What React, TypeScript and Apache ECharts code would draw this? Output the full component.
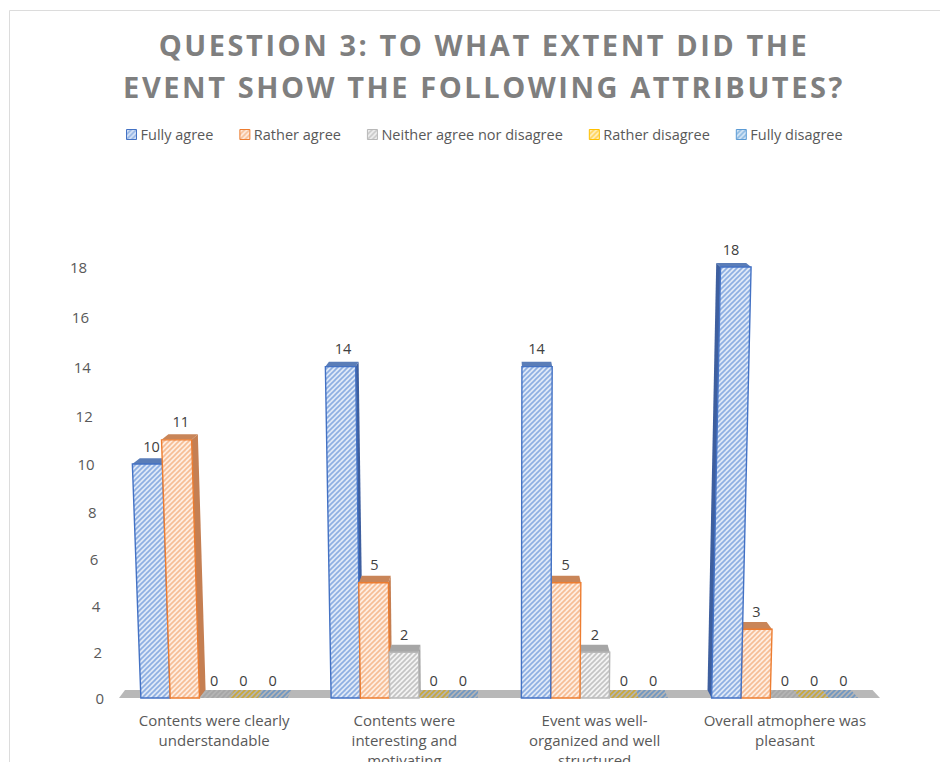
import React, { useEffect, useRef } from "react";
import * as echarts from "echarts";

const titleText = "QUESTION 3: TO WHAT EXTENT DID THE\nEVENT SHOW THE FOLLOWING ATTRIBUTES?";
const categories = [
  "Contents were clearly\nunderstandable",
  "Contents were\ninteresting and\nmotivating",
  "Event was well-\norganized and well\nstructured",
  "Overall atmophere was\npleasant",
];
const seriesNames = ["Fully agree", "Rather agree", "Neither agree nor disagree", "Rather disagree", "Fully disagree"];
const fullyAgree = [10, 14, 14, 18];
const ratherAgree = [11, 5, 5, 3];
const neither = [0, 2, 2, 0];
const ratherDisagree = [0, 0, 0, 0];
const fullyDisagree = [0, 0, 0, 0];
const seriesValues = [fullyAgree, ratherAgree, neither, ratherDisagree, fullyDisagree];
const tickLabels = [0, 2, 4, 6, 8, 10, 12, 14, 16, 18];

const borders = ["#4472c4", "#ed7d31", "#b8b8b8", "#ffc000", "#5b9bd5"];
const stripes = ["#8dafe2", "#f6bd95", "#c4c4c4", "#ffd050", "#86b6e0"];
const grounds = ["#e0e9f7", "#feeee3", "#f4f4f4", "#fff3cc", "#deebf7"];
const caps = ["#5a7db8", "#c98558", "#a6a6a6", "#c9a83a", "#6f97c2"];
const sides = ["#3e5f9f", "#c57f52", "#a0a0a0", "#c9a83a", "#6f97c2"];

function hatch(fg: string, bg: string) {
  const c = document.createElement("canvas");
  c.width = 5;
  c.height = 5;
  const g = c.getContext("2d")!;
  g.fillStyle = bg;
  g.fillRect(0, 0, 5, 5);
  g.strokeStyle = fg;
  g.lineWidth = 1.7;
  for (const o of [-5, 0, 5]) {
    g.beginPath();
    g.moveTo(o - 1, 6);
    g.lineTo(o + 6, -1);
    g.stroke();
  }
  return { image: c, repeat: "repeat" as const };
}

// The reference's 3D view makes the scale slightly denser near the floor.
const warp = (v: number) => (v * (22.72 + 0.068 * v)) / (431 / 18);
const VANISH_X = 505;
const LEAN = 0.0001;
const INSET = 0.02;

function skew(x: number, rise: number) {
  return VANISH_X + (x - VANISH_X) * (1 + LEAN * rise);
}
function back(x: number) {
  return VANISH_X + (x - VANISH_X) * (1 - INSET);
}

export default function App() {
  const ref = useRef<HTMLDivElement>(null);
  useEffect(() => {
    const chart = echarts.init(ref.current!, undefined, { renderer: "svg" });
    const fills = borders.map((_, i) => hatch(stripes[i], grounds[i]));
    const zeroCaps = borders.map((_, i) => hatch(caps[i], "#b4b4b4"));

    const barRender = (si: number) => (params: any, api: any) => {
      const cat = api.value(0);
      const val = api.value(1);
      const [cx, y0] = api.coord([cat, 0]);
      const [, yT] = api.coord([cat, warp(val)]);
      const band = api.size([1, 0])[0];
      const bw = band * 0.154;
      const xl = cx + (si - 2.5) * bw;
      const xr = xl + bw;
      const rise = y0 - yT;
      const tl = skew(xl, rise);
      const tr = skew(xr, rise);
      const depth = 8 - rise * 0.0095;
      const order = cat >= 2 ? 10 - si : si;
      const children: any[] = [];
      const mid = (xl + xr) / 2;
      if (val > 0 && mid < VANISH_X - 15) {
        children.push({
          type: "polygon",
          z2: order,
          shape: { points: [[xr, y0], [tr, yT], [back(tr), yT - depth], [back(xr), y0 - 8]] },
          style: { fill: sides[si] },
        });
      }
      if (val > 0 && mid > VANISH_X + 60) {
        children.push({
          type: "polygon",
          z2: order,
          shape: { points: [[xl, y0], [tl, yT], [back(tl), yT - depth], [back(xl), y0 - 8]] },
          style: { fill: sides[si] },
        });
      }
      children.push({
        type: "polygon",
        z2: order,
        shape: { points: [[tl, yT], [tr, yT], [back(tr), yT - depth], [back(tl), yT - depth]] },
        style: { fill: val > 0 ? caps[si] : zeroCaps[si] },
      });
      if (val > 0) {
        children.push({
          type: "polygon",
          z2: order,
          shape: { points: [[xl, y0], [xr, y0], [tr, yT], [tl, yT]] },
          style: { fill: fills[si], stroke: borders[si], lineWidth: 1.4 },
        });
      }
      children.push({
        type: "text",
        z2: 100,
        style: {
          x: (mid + (tl + tr) / 2) / 2,
          y: yT - 18,
          text: String(val),
          fill: "#404040",
          font: "14.5px 'Open Sans'",
          align: "center",
          verticalAlign: "middle",
        },
      });
      return { type: "group", children };
    };

    const floorRender = (params: any, api: any) => {
      const band = api.size([1, 0])[0];
      const [c0, y0] = api.coord([0, 0]);
      const [c3] = api.coord([categories.length - 1, 0]);
      const xa = c0 - band / 2;
      const xb = c3 + band / 2;
      return {
        type: "polygon",
        shape: { points: [[xa, y0], [xb, y0], [back(xb), y0 - 8], [xa + 6, y0 - 8]] },
        style: { fill: "#b8b8b8" },
      };
    };

    chart.setOption({
      animation: false,
      backgroundColor: "#ffffff",
      title: {
        text: titleText,
        left: 479,
        top: 18,
        textAlign: "center",
        textStyle: {
          fontFamily: "Open Sans",
          fontWeight: "bold",
          fontSize: 29,
          lineHeight: 42,
          color: "#7f7f7f",
        },
      },
      legend: {
        left: 121,
        top: 122,
        itemWidth: 10,
        itemHeight: 10,
        itemGap: 26,
        icon: "rect",
        selectedMode: false,
        textStyle: { fontFamily: "Open Sans", fontSize: 14.5, color: "#595959", padding: [0, 0, 0, -1] },
        data: seriesNames.map((name, i) => ({
          name,
          icon: "rect",
          itemStyle: { color: fills[i], borderColor: borders[i], borderWidth: 1 },
        })),
      },
      grid: { left: 119, top: 267, width: 761, height: 431, outerBoundsMode: "none" },
      xAxis: {
        type: "category",
        data: categories,
        axisLine: { show: false },
        axisTick: { show: false },
        axisLabel: {
          interval: 0,
          margin: 12,
          fontFamily: "Open Sans",
          fontSize: 15,
          lineHeight: 20,
          color: "#595959",
        },
      },
      yAxis: {
        type: "value",
        min: 0,
        max: 18,
        splitLine: { show: false },
        axisLine: { show: false },
        axisTick: { show: false },
        axisLabel: {
          customValues: tickLabels.map(warp),
          margin: 15,
          formatter: (v: number) => {
            const t = tickLabels.reduce((a, b) => (Math.abs(warp(b) - v) < Math.abs(warp(a) - v) ? b : a));
            return `{t${t}|${t}}`;
          },
          rich: Object.fromEntries(
            tickLabels.map((t) => [
              `t${t}`,
              { fontFamily: "Open Sans", fontSize: 15, color: "#595959", padding: [0, t * 0.94, 0, 0] },
            ])
          ),
        },
      },
      series: [
        {
          type: "custom",
          name: "floor",
          silent: true,
          renderItem: floorRender,
          data: [[0, 0]],
          clip: false,
          z: 1,
        },
        ...seriesNames.map((name, si) => ({
          type: "custom",
          name,
          silent: true,
          coordinateSystem: "cartesian2d",
          renderItem: barRender(si),
          itemStyle: { color: borders[si] },
          encode: { x: 0, y: 1 },
          data: seriesValues[si].map((v, c) => [c, v]),
          clip: false,
          z: 2,
        })),
      ],
      graphic: [
        {
          type: "polyline",
          shape: { points: [[9.5, 762], [9.5, 10.5], [940, 10.5]] },
          style: { fill: "none", stroke: "#dcdcdc", lineWidth: 1 },
          silent: true,
          z: -1,
        },
      ],
    });
    return () => chart.dispose();
  }, []);
  return (
    <>
      <style>{`text[style*="29px"]{letter-spacing:2.55px}`}</style>
      <div ref={ref} style={{ position: "absolute", left: 0, top: 0, width: 940, height: 762 }} />
    </>
  );
}
